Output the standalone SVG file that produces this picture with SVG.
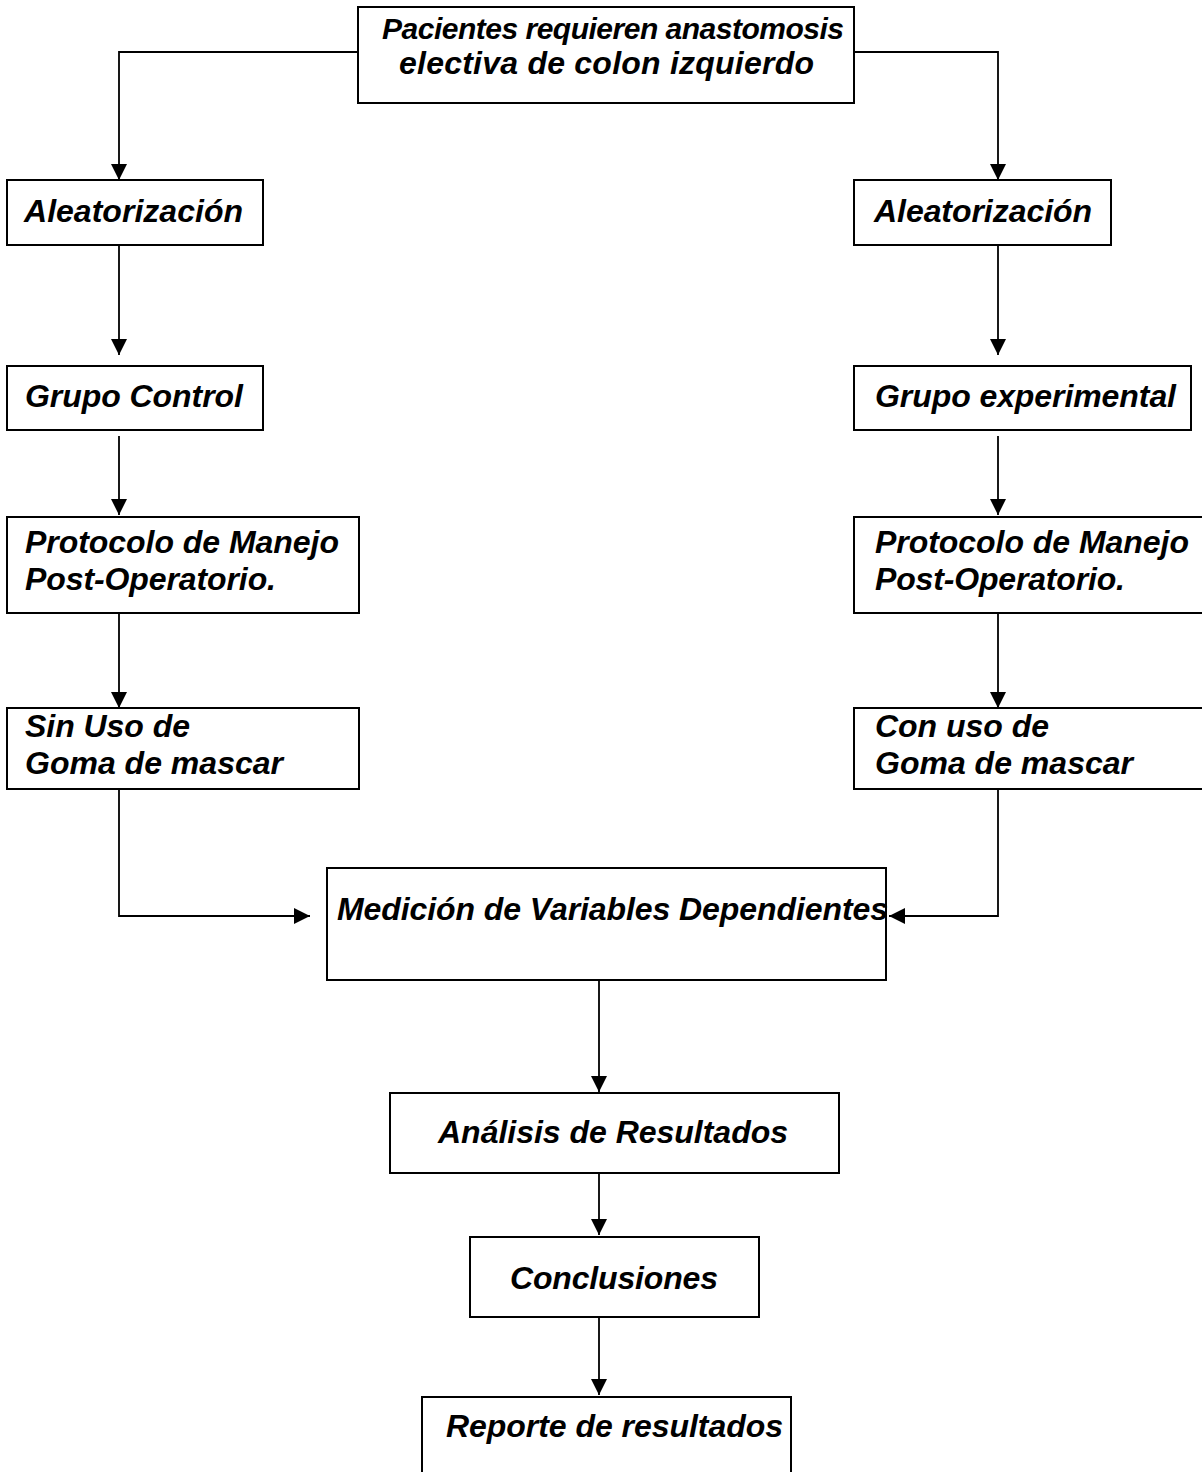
<svg xmlns="http://www.w3.org/2000/svg" width="1202" height="1472" viewBox="0 0 1202 1472">
<style>
.box{fill:#fff;stroke:#000;stroke-width:2}
.t{font-family:"Liberation Sans",Arial,sans-serif;font-weight:bold;font-style:italic;font-size:32px;fill:#000}
.s{font-size:30px}
.c{fill:none;stroke:#000;stroke-width:1.8}
</style>
<defs>
<marker id="ah" markerUnits="userSpaceOnUse" markerWidth="17" markerHeight="16" refX="16" refY="8" orient="auto">
<path d="M0,0 L16,8 L0,16 Z" fill="#000"/>
</marker>
</defs>
<rect width="1202" height="1472" fill="#fff"/>
<g id="connectors">
<path class="c" d="M358,52 H119 V180" marker-end="url(#ah)"/>
<path class="c" d="M854,52 H998 V180" marker-end="url(#ah)"/>
<path class="c" d="M119,245 V355" marker-end="url(#ah)"/>
<path class="c" d="M998,245 V355" marker-end="url(#ah)"/>
<path class="c" d="M119,436 V515" marker-end="url(#ah)"/>
<path class="c" d="M998,436 V515" marker-end="url(#ah)"/>
<path class="c" d="M119,613 V708" marker-end="url(#ah)"/>
<path class="c" d="M998,613 V708" marker-end="url(#ah)"/>
<path class="c" d="M119,789 V916 H310" marker-end="url(#ah)"/>
<path class="c" d="M998,789 V916 H889" marker-end="url(#ah)"/>
<path class="c" d="M599,980 V1092" marker-end="url(#ah)"/>
<path class="c" d="M599,1173 V1235" marker-end="url(#ah)"/>
<path class="c" d="M599,1317 V1395" marker-end="url(#ah)"/>
</g>
<g id="n-pacientes">
<rect class="box" x="358" y="7" width="496" height="96"/>
<text class="t s" x="382" y="39" textLength="462">Pacientes requieren anastomosis</text>
<text class="t" x="399" y="74" textLength="415">electiva de colon izquierdo</text>
</g>
<g id="n-alea-l">
<rect class="box" x="7" y="180" width="256" height="65"/>
<text class="t" x="24" y="222" textLength="219">Aleatorización</text>
</g>
<g id="n-alea-r">
<rect class="box" x="854" y="180" width="257" height="65"/>
<text class="t" x="874" y="222" textLength="218">Aleatorización</text>
</g>
<g id="n-control">
<rect class="box" x="7" y="366" width="256" height="64"/>
<text class="t" x="25" y="407" textLength="218">Grupo Control</text>
</g>
<g id="n-experimental">
<rect class="box" x="854" y="366" width="337" height="64"/>
<text class="t" x="875" y="407" textLength="301">Grupo experimental</text>
</g>
<g id="n-proto-l">
<rect class="box" x="7" y="517" width="352" height="96"/>
<text class="t" x="25" y="553" textLength="314">Protocolo de Manejo</text>
<text class="t" x="25" y="590" textLength="251">Post-Operatorio.</text>
</g>
<g id="n-proto-r">
<rect class="box" x="854" y="517" width="352" height="96"/>
<text class="t" x="875" y="553" textLength="314">Protocolo de Manejo</text>
<text class="t" x="875" y="590" textLength="250">Post-Operatorio.</text>
</g>
<g id="n-sin">
<rect class="box" x="7" y="708" width="352" height="81"/>
<text class="t" x="25" y="737" textLength="165">Sin Uso de</text>
<text class="t" x="25" y="774" textLength="258">Goma de mascar</text>
</g>
<g id="n-con">
<rect class="box" x="854" y="708" width="352" height="81"/>
<text class="t" x="875" y="737" textLength="174">Con uso de</text>
<text class="t" x="875" y="774" textLength="258">Goma de mascar</text>
</g>
<g id="n-medicion">
<rect class="box" x="327" y="868" width="559" height="112"/>
<text class="t" x="337" y="920" textLength="551">Medición de Variables Dependientes</text>
</g>
<g id="n-analisis">
<rect class="box" x="390" y="1093" width="449" height="80"/>
<text class="t" x="438" y="1143" textLength="350">Análisis de Resultados</text>
</g>
<g id="n-conclusiones">
<rect class="box" x="470" y="1237" width="289" height="80"/>
<text class="t" x="510" y="1289" textLength="208">Conclusiones</text>
</g>
<g id="n-reporte">
<rect class="box" x="422" y="1397" width="369" height="80"/>
<text class="t" x="446" y="1437" textLength="337">Reporte de resultados</text>
</g>
</svg>
